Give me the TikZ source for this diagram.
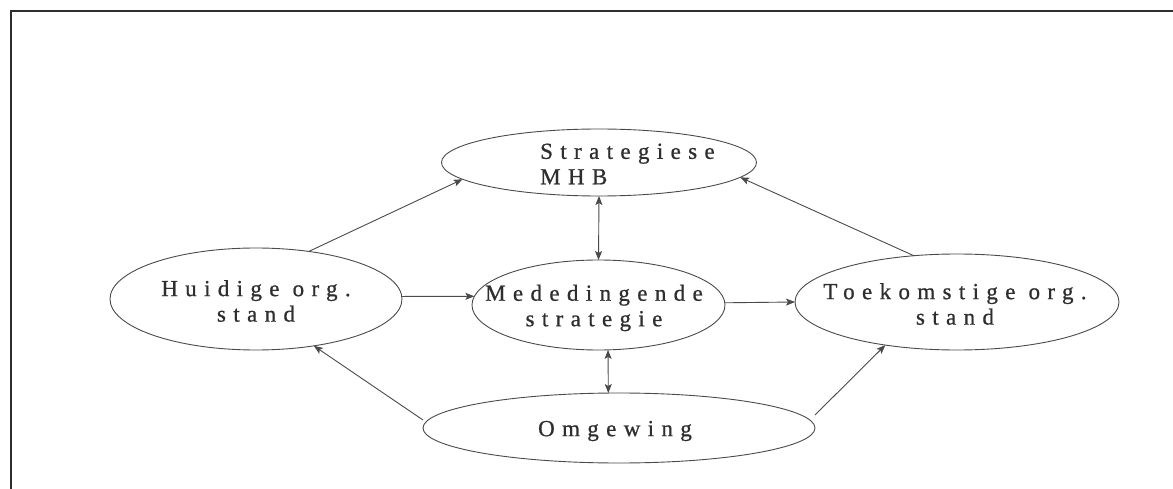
\documentclass[tikz,border=0pt]{standalone}
\usepackage{fontspec}
\setmainfont{Liberation Serif}[LetterSpace=32,FakeBold=0.8]
\usetikzlibrary{arrows.meta,shapes.geometric}
\definecolor{ink}{HTML}{2E2E2E}
\definecolor{edge}{HTML}{4A4A4A}
\begin{document}
\begin{tikzpicture}[x=1pt,y=-1pt,
  oval/.style={draw=edge, line width=0.9pt, ellipse, inner sep=0pt, outer sep=0pt},
  lbl/.style={text=ink, font=\fontsize{23}{25.5}\selectfont, align=center, inner sep=0pt},
  tip/.style={Stealth[length=9pt,width=7pt,inset=2pt]},
  link/.style={draw=edge, line width=0.9pt, -{Stealth[length=9pt,width=7pt,inset=2pt]}},
  biway/.style={draw=edge, line width=0.9pt, {Stealth[length=9pt,width=7pt,inset=2pt]}-{Stealth[length=9pt,width=7pt,inset=2pt]}}]
  \useasboundingbox (0,0) rectangle (1173,489);
  % open frame: left and top edges
  \draw[draw=ink, line width=1.8pt] (11,489) -- (11,11) -- (1173,11);

  % ellipses
  \node[oval, minimum width=315pt, minimum height=67pt] (smhb) at (599,162.5) {};
  \node[oval, minimum width=292pt, minimum height=102pt] (huid) at (256,299) {};
  \node[oval, minimum width=253pt, minimum height=90pt] (mede) at (598.5,305) {};
  \node[oval, minimum width=324pt, minimum height=96pt] (toek) at (957,302) {};
  \node[oval, minimum width=392pt, minimum height=70pt] (omg) at (619,428) {};

  % labels
  \node[lbl, align=left, anchor=west] (smhbtxt) at (540,164) {Strategiese\\MHB};
  \node[lbl] (huidtxt) at (256,301) {Huidige org.\\stand};
  \node[lbl] (medetxt) at (594,308) {Mededingende\\strategie};
  \node[lbl] (toektxt) at (955,304) {Toekomstige org.\\stand};
  \node[lbl] (omgtxt) at (615,431) {Omgewing};

  % connectors
  \draw[link] (huid.42) -- (smhb.187);
  \draw[link] (toek.133) -- (smhb.354);
  \draw[biway] (smhb.south) -- (mede.north);
  \draw[link] (huid.1) -- (mede.176.4);
  \draw[link] (mede.1.4) -- (toek.west);
  \draw[biway] (mede.282) -- (omg.107.5);
  \draw[link] ([yshift=8pt]omg.west) -- (huid.321.7);
  \draw[link] ([yshift=13pt]omg.east) -- (toek.211);
\end{tikzpicture}
\end{document}
